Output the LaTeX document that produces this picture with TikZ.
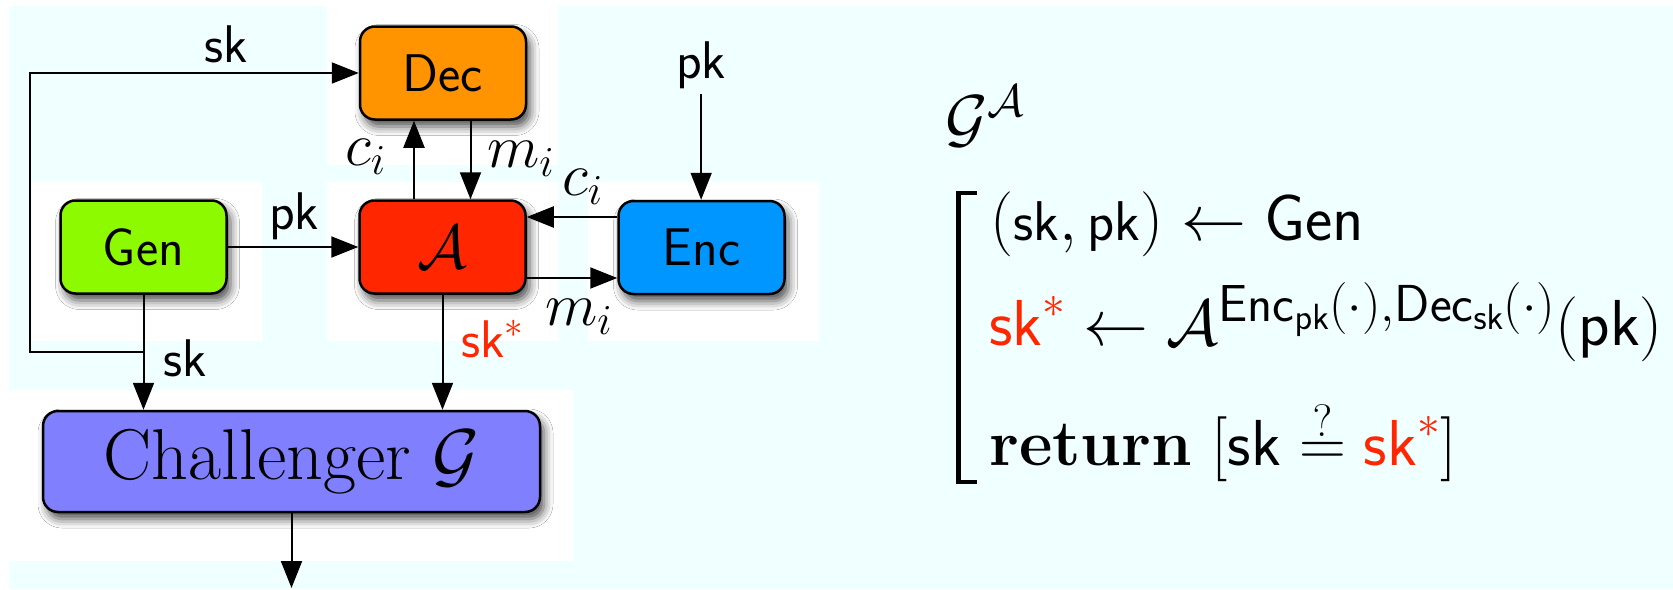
\RequirePackage{fix-cm}
\documentclass[tikz,border=0pt]{standalone}
\usepackage{amsmath}
\usetikzlibrary{arrows.meta,shadows.blur}
\definecolor{decc}{RGB}{255,147,0}
\definecolor{genc}{RGB}{142,250,0}
\definecolor{advc}{RGB}{255,38,0}
\definecolor{encc}{RGB}{0,150,255}
\definecolor{chc}{RGB}{128,128,255}
\definecolor{bgc}{RGB}{240,255,255}
\newcommand\myBoxFont{\fontsize{53}{60}\selectfont\sffamily}
\newcommand\myAFont{\fontsize{62}{70}\selectfont}
\newcommand\myChFont{\fontsize{72}{80}\selectfont}
\newcommand\myLblFont{\fontsize{53}{60}\selectfont\sffamily}
\newcommand\myMathLblFont{\fontsize{61}{68}\selectfont}
\newcommand\myFmFont{\fontsize{65}{72}\selectfont}
\newcommand\mySmallSf[1]{\mbox{\fontsize{56}{60}\selectfont\sffamily #1}}
\newcommand\mySup[1]{\mbox{\fontsize{52}{58}\selectfont$#1$}}
\tikzset{
  box/.style={draw=black, line width=2.5pt, rounded corners=15pt,
    minimum width=166pt, minimum height=93pt, inner sep=0pt,
    blur shadow={shadow xshift=4pt, shadow yshift=-7pt, shadow blur radius=9pt, shadow opacity=70},
    font=\myBoxFont},
  arr/.style={line width=2pt, -{Triangle[length=27pt,width=21pt]}},
  lbl/.style={anchor=base west, inner sep=0pt, font=\myLblFont},
  mlbl/.style={anchor=base west, inner sep=0pt, font=\myMathLblFont},
  fm/.style={anchor=base west, inner sep=0pt, font=\myFmFont},
}
\begin{document}
\begin{tikzpicture}[x=1pt,y=-1pt]
\useasboundingbox (0,0) rectangle (1673,589);
% background patches
\fill[white] (0,0) rectangle (1673,589);
\fill[bgc] (9,6) rectangle (1673,589);
\fill[white] (327,0) rectangle (558,165);
\fill[white] (32,182) rectangle (262,341);
\fill[white] (327,182) rectangle (558,341);
\fill[white] (588,182) rectangle (819,341);
\fill[white] (0,390) rectangle (573,561);
% boxes
\node[box, fill=decc] (Dec) at (443,73) {Dec};
\node[box, fill=genc] (Gen) at (143.5,247) {Gen};
\node[box, fill=advc, font=\myAFont] (A) at (442.5,247) {$\mathcal{A}$};
\node[box, fill=encc] (Enc) at (701.5,247.5) {Enc};
\node[box, fill=chc, minimum width=497pt, minimum height=101pt, font=\myChFont] (Ch) at (291.5,461.5) {Challenger $\mathcal{G}$};
% connectors
\coordinate (j) at (144,352);
\coordinate (jl) at (30,352);
\draw[arr] (Gen.south) -- (Gen.south |- Ch.north);
\draw[arr] (j) -- (jl) |- (Dec.west);
\node[lbl] (sktop) at (204,62) {sk};
\node[lbl] (skgen) at (163,376) {sk};
\draw[arr] (Gen.east) -- (A.west);
\node[lbl] (pkgen) at (269,229) {pk};
\draw[arr] ([xshift=-28.5pt]A.north) -- ([xshift=-28.5pt]A.north |- Dec.south);
\draw[arr] ([xshift=27.5pt]Dec.south) -- ([xshift=27.5pt]Dec.south |- A.north);
\node[mlbl] (cdec) at (345,165) {$c_i$};
\node[mlbl] (mdec) at (487,167) {$m_i$};
\draw[arr] ([yshift=30.5pt]Enc.west) -- ([yshift=30.5pt]Enc.west -| A.east);
\draw[arr] ([yshift=-31pt]A.east) -- ([yshift=-31pt]A.east -| Enc.west);
\node[mlbl] (cenc) at (562,195) {$c_i$};
\node[mlbl] (menc) at (545,325) {$m_i$};
\node[lbl] (pkin) at (676,78) {pk};
\draw[arr] ([yshift=-5pt]pkin.south) -- (pkin.south |- Enc.north);
\draw[arr] (A.south) -- (A.south |- Ch.north);
\node[lbl, text=advc] (skstar) at (461,357) {sk$^*$};
\coordinate (out) at (291.5,588);
\draw[arr] (Ch.south) -- (out);
% game description
\node[fm] (gA) at (945,140) {$\mathcal{G}^{\mathcal{A}}$};
\draw[line width=4.5pt] (977,193) -- (958.5,193) -- (958.5,482) -- (977,482);
\node[fm] (l1) at (990,240) {$(\mySmallSf{sk},\mySmallSf{pk}) \leftarrow \mathsf{Gen}$};
\node[fm] (l2) at (989,345) {$\textcolor{advc}{\mathsf{sk}^*} \leftarrow \mathcal{A}^{\mySup{\mathsf{Enc}_{\mathsf{pk}}(\cdot){,}\mathsf{Dec}_{\mathsf{sk}}(\cdot)}}(\mathsf{pk})$};
\node[fm] (l3) at (989,465) {$\mathbf{return}\ [\mathsf{sk} \overset{?}{=} \textcolor{advc}{\mathsf{sk}^*}]$};
\end{tikzpicture}
\end{document}
